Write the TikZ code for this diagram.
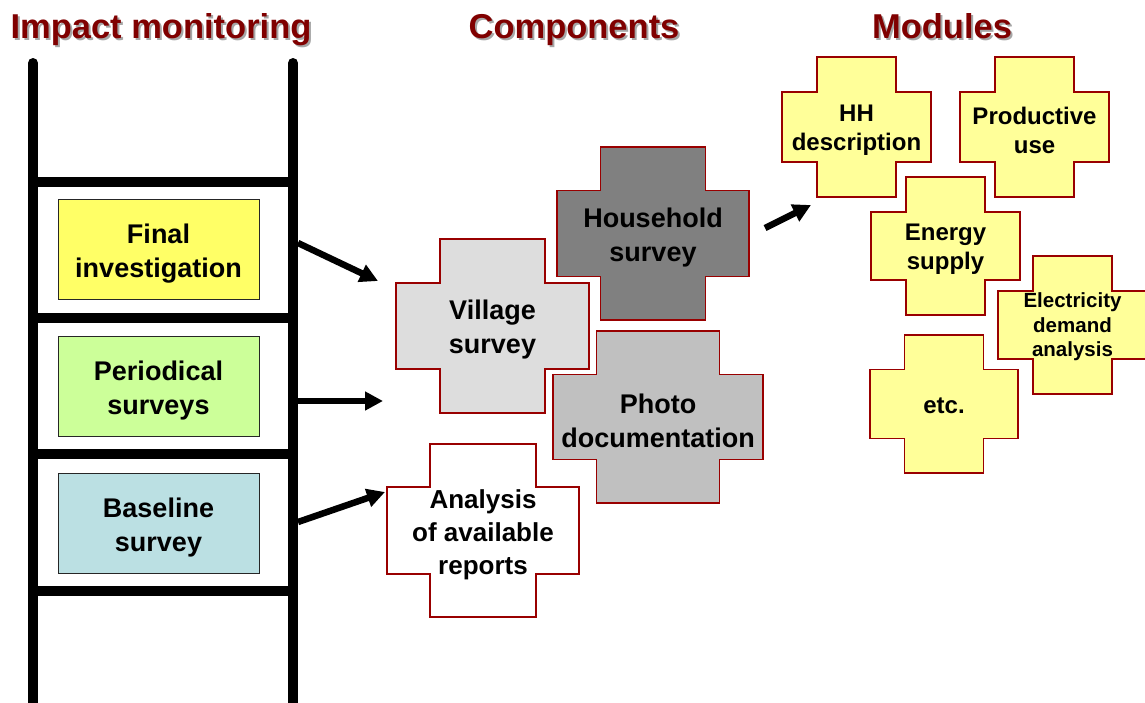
\documentclass[tikz,border=0pt]{standalone}
\usepackage{fontspec}
\setmainfont{Liberation Sans}
\usetikzlibrary{arrows.meta}

\definecolor{titlered}{RGB}{128,0,0}
\definecolor{crossline}{RGB}{153,0,0}
\definecolor{modfill}{RGB}{255,255,153}
\definecolor{finalfill}{RGB}{255,255,102}
\definecolor{periodfill}{RGB}{204,255,153}
\definecolor{basefill}{RGB}{187,224,227}
\definecolor{villagefill}{RGB}{221,221,221}
\definecolor{housefill}{RGB}{128,128,128}
\definecolor{photofill}{RGB}{192,192,192}

% plus-shaped block: name, centre x, centre y, half width, half height,
% corner inset, fill colour, text style, text
\newcommand\plusshape[9]{%
  \begin{scope}[shift={(#2,#3)}]
    \draw[plusline, fill=#7]
      (-#4+#6,-#5) -- (#4-#6,-#5) -- (#4-#6,-#5+#6) -- (#4,-#5+#6)
      -- (#4,#5-#6) -- (#4-#6,#5-#6) -- (#4-#6,#5) -- (-#4+#6,#5)
      -- (-#4+#6,#5-#6) -- (-#4,#5-#6) -- (-#4,-#5+#6) -- (-#4+#6,-#5+#6)
      -- cycle;
    \node[#8] (#1) at (0,0) {#9};
  \end{scope}}

\begin{document}
\begin{tikzpicture}[x=1pt,y=-1pt,
  heading/.style={font=\bfseries\fontsize{34.5}{41}\selectfont, text=titlered, anchor=base, inner sep=0pt},
  headshadow/.style={font=\bfseries\fontsize{34.5}{41}\selectfont, text=black!35, anchor=base, inner sep=0pt},
  rail/.style={line width=10pt, black},
  stage/.style={draw=black!85, line width=0.8pt, minimum width=201pt, minimum height=100pt,
    inner sep=0pt, align=center, font=\bfseries\fontsize{27}{34}\selectfont},
  stagetext/.style={align=center, inner sep=0pt, yshift=-5pt, font=\bfseries\fontsize{27}{34}\selectfont},
  plusline/.style={draw=crossline, line width=1.5pt},
  comptext/.style={align=center, inner sep=0pt, yshift=-4pt, font=\bfseries\fontsize{27}{34}\selectfont},
  reptext/.style={align=center, inner sep=0pt, yshift=-4pt, font=\bfseries\fontsize{26}{33}\selectfont},
  modtext/.style={align=center, inner sep=0pt, yshift=-3pt, font=\bfseries\fontsize{24}{29}\selectfont},
  onetext/.style={align=center, inner sep=0pt, yshift=-2pt, font=\bfseries\fontsize{24}{29}\selectfont},
  smalltext/.style={align=center, inner sep=0pt, yshift=-2pt, font=\bfseries\fontsize{20.5}{24.5}\selectfont},
  flow/.style={line width=6.5pt, -{Triangle[length=18pt,width=18pt]}}]

\useasboundingbox[fill=white] (0,0) rectangle (1145,702);

% column headings
\node[headshadow] (h1s) at (163,40) {Impact monitoring};
\node[heading]    (h1)  at (161,38) {Impact monitoring};
\node[headshadow] (h2s) at (576,40) {Components};
\node[heading]    (h2)  at (574,38) {Components};
\node[headshadow] (h3s) at (944,40) {Modules};
\node[heading]    (h3)  at (942,38) {Modules};

% ladder
\draw[rail, line cap=round] (33,63) -- (33,712);
\draw[rail, line cap=round] (293,63) -- (293,712);
\foreach \ry in {182,318,454,591}
  \draw[rail] (33,\ry) -- (293,\ry);

% stages on the ladder
\node[stage, fill=finalfill]  (final)  at (158.5,249) {};
\node[stage, fill=periodfill] (period) at (158.5,386) {};
\node[stage, fill=basefill]   (base)   at (158.5,523) {};
\node[stagetext] (finaltext)  at (final)  {Final\\investigation};
\node[stagetext] (periodtext) at (period) {Periodical\\surveys};
\node[stagetext] (basetext)   at (base)   {Baseline\\survey};

% components
\plusshape{village}{492.5}{326}{96.5}{87}{44}{villagefill}{comptext}{Village\\survey}
\plusshape{house}{653}{233.5}{96}{86.5}{43.5}{housefill}{comptext}{Household\\survey}
\plusshape{photo}{658}{417}{105}{86}{43.5}{photofill}{comptext}{Photo\\documentation}
\plusshape{reports}{483}{530.5}{96}{86.5}{43}{white}{reptext}{Analysis\\of available\\reports}

% modules
\plusshape{hh}{856.5}{127}{74.5}{70}{35}{modfill}{modtext}{HH\\description}
\plusshape{prod}{1034.5}{127}{74.5}{70}{35}{modfill}{modtext}{Productive\\use}
\plusshape{energy}{945.5}{246}{74.5}{69}{35}{modfill}{modtext}{Energy\\supply}
\plusshape{elec}{1072.5}{325}{74.5}{69}{35}{modfill}{smalltext}{Electricity\\demand\\analysis}
\plusshape{etc}{944}{404}{74}{69}{34.5}{modfill}{onetext}{etc.}

% arrow end points
\coordinate (finalout)  at (298,243);
\coordinate (periodout) at (298,401);
\coordinate (baseout)   at (298,522);
\coordinate (villagein) at (378,281);
\coordinate (compin)    at (383,401);
\coordinate (reportsin) at (385,492);
\coordinate (houseout)  at (765,228);
\coordinate (hhin)      at (811,205);

\draw[flow] (finalout) -- (villagein);
\draw[flow] (periodout) -- (compin);
\draw[flow] (baseout) -- (reportsin);
\draw[flow] (houseout) -- (hhin);

\end{tikzpicture}
\end{document}
